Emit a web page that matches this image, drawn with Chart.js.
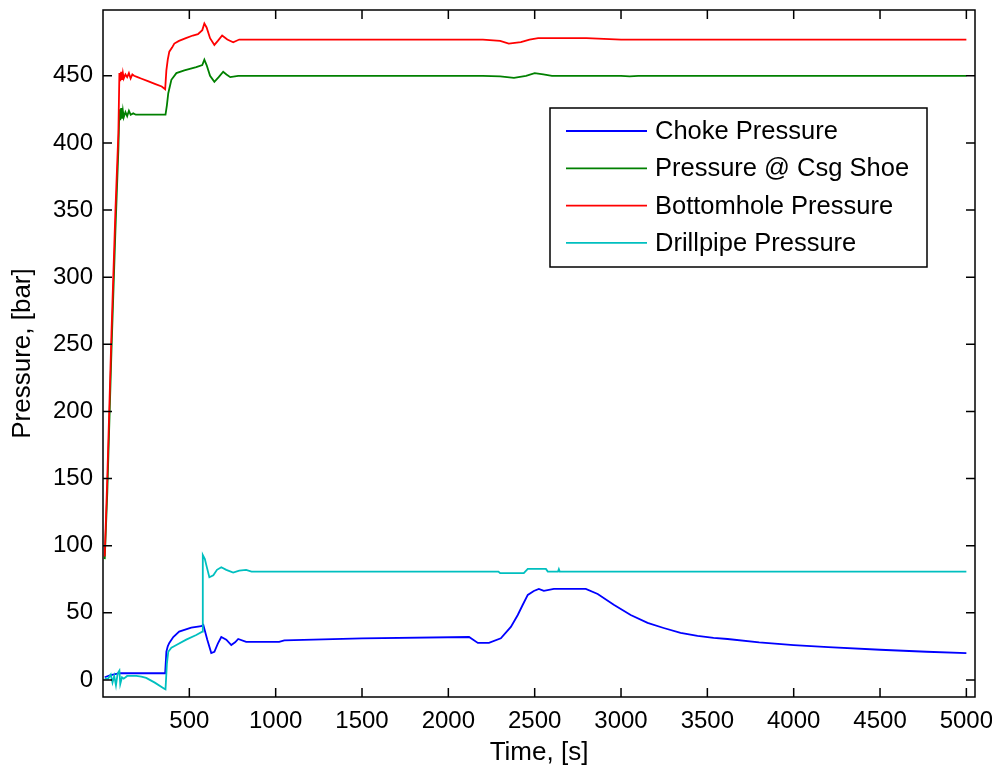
<!DOCTYPE html>
<html>
<head>
<meta charset="utf-8">
<script src="https://cdn.jsdelivr.net/npm/chart.js@4.4.1/dist/chart.umd.min.js"></script>
<style>
  body { margin: 0; background: #fff; }
  #wrap { width: 992px; height: 768px; }
</style>
</head>
<body>
<div id="wrap"><canvas id="chart"></canvas></div>
<script>
// series labels and colours
var seriesNames = ["Choke Pressure", "Pressure @ Csg Shoe", "Bottomhole Pressure", "Drillpipe Pressure"];
var seriesColors = ["#0000FF", "#008000", "#FF0000", "#00BFBF"];

// choke pressure [bar] vs time [s]
var chokeT = [10, 40, 95, 200, 360, 367, 375, 384, 407, 441, 511, 569, 581, 604, 627, 645, 665, 685, 714, 743, 765, 783, 829, 1020, 1050, 1500, 2120, 2171, 2235, 2304, 2362, 2402, 2431, 2460, 2495, 2524, 2553, 2611, 2796, 2865, 2958, 3056, 3154, 3247, 3345, 3443, 3536, 3617, 3800, 4000, 4200, 4500, 4770, 5000];
var chokeP = [2, 3.5, 5, 5, 5, 21, 25, 27.6, 32, 36, 39, 40, 41, 30, 20, 21, 27, 32, 30, 26, 28, 30.5, 28.3, 28.3, 29.5, 31, 32, 27.6, 27.6, 31, 39.5, 48.4, 56, 63.3, 66.3, 67.8, 66.3, 67.8, 67.8, 64, 56, 48.4, 42.5, 38.7, 35, 32.8, 31.3, 30.5, 28, 26, 24.5, 22.5, 21, 20];

// pressure at casing shoe
var shoeT = [10, 25, 49, 72, 89, 95, 100, 105, 110, 115, 120, 130, 140, 150, 160, 175, 190, 220, 260, 300, 340, 362, 370, 378, 396, 425, 471, 540, 575, 587, 600, 620, 645, 670, 696, 715, 737, 783, 840, 1500, 2200, 2300, 2380, 2450, 2500, 2550, 2600, 3000, 3050, 3100, 4000, 5000];
var shoeP = [90, 140, 245, 335, 395, 425, 417, 426, 418, 424, 419, 423, 420, 424, 421, 422, 421, 421, 421, 421, 421, 421, 428, 437, 447, 452, 454, 456.5, 458, 462, 458, 450, 445.5, 449, 453, 451, 449, 450, 450, 450, 450, 449.5, 448.5, 450, 452, 451, 450, 450, 449.5, 450, 450, 450];

// bottomhole pressure
var bottomT = [10, 25, 49, 72, 89, 95, 100, 105, 110, 115, 120, 130, 140, 150, 160, 170, 180, 200, 220, 260, 300, 340, 360, 367, 375, 384, 400, 413, 440, 480, 520, 550, 575, 587, 600, 620, 645, 665, 690, 720, 754, 789, 840, 1500, 2200, 2300, 2350, 2420, 2470, 2520, 2600, 2800, 3000, 3500, 4000, 5000];
var bottomP = [92, 151, 258, 350, 407, 452, 446, 453, 447, 452, 448, 451, 449, 452, 448, 451, 450, 449, 448, 446, 444, 442, 440, 454, 462, 468, 471, 474, 476, 478, 480, 481, 484, 489, 486, 478, 473, 476, 480, 477, 475, 477, 477, 477, 477, 476, 474, 475, 477, 478, 478, 478, 477, 477, 477, 477];

// drillpipe pressure
var drillT = [10, 30, 45, 55, 65, 75, 85, 95, 100, 110, 120, 140, 160, 193, 222, 250, 300, 355, 362, 370, 378, 396, 425, 482, 540, 575, 578, 590, 598, 616, 639, 660, 685, 714, 754, 789, 829, 860, 2290, 2300, 2437, 2460, 2565, 2576, 2635, 2640, 2645, 5000];
var drillP = [1, 1, 4, -2, 3, -4, 5, 7, -3, 2, 1, 3, 3, 3, 2.5, 1.5, -2, -6.5, -7, 12, 21, 24, 26, 30, 33.5, 36, 93, 90, 85.7, 76.5, 78, 82, 84, 82, 80, 81.5, 82, 80.7, 80.7, 79.5, 79.5, 82.7, 82.7, 80.7, 80.7, 82.5, 80.7, 80.7];

// axis tick values
var xTicks = [500, 1000, 1500, 2000, 2500, 3000, 3500, 4000, 4500, 5000];
var yTicks = [0, 50, 100, 150, 200, 250, 300, 350, 400, 450];

var FONT = "'Liberation Sans', Arial, sans-serif";

function pts(ts, vs) {
    return ts.map(function(t, i) { return {x: t, y: vs[i]}; });
}

var allT = [chokeT, shoeT, bottomT, drillT];
var allP = [chokeP, shoeP, bottomP, drillP];

var datasets = seriesNames.map(function(name, i) {
    return {
        label: name,
        data: pts(allT[i], allP[i]),
        borderColor: seriesColors[i],
        borderWidth: 1.8,
        pointRadius: 0,
        tension: 0,
        fill: false,
        order: 4 - i   // later series on top, like the original plot
    };
});

function noPad(s) {
    s.paddingLeft = 0; s.paddingRight = 0; s.paddingTop = 0; s.paddingBottom = 0;
}

// frame, inward ticks on all sides, legend box
var framePlugin = {
    id: 'framePlugin',
    afterDatasetsDraw: function(chart) {
        var ctx = chart.ctx, a = chart.chartArea;
        var xs = chart.scales.x, ys = chart.scales.y;
        var tl = 9;
        ctx.save();
        ctx.strokeStyle = '#000';
        ctx.lineWidth = 1.5;
        ctx.strokeRect(a.left, a.top, a.right - a.left, a.bottom - a.top);
        ctx.beginPath();
        xTicks.forEach(function(v) {
            var px = xs.getPixelForValue(v);
            ctx.moveTo(px, a.bottom); ctx.lineTo(px, a.bottom - tl);
            ctx.moveTo(px, a.top); ctx.lineTo(px, a.top + tl);
        });
        yTicks.forEach(function(v) {
            var py = ys.getPixelForValue(v);
            ctx.moveTo(a.left, py); ctx.lineTo(a.left + tl, py);
            ctx.moveTo(a.right, py); ctx.lineTo(a.right - tl, py);
        });
        ctx.stroke();

        // legend
        var bx = 550, by = 108, bw = 377, bh = 159;
        ctx.fillStyle = '#fff';
        ctx.fillRect(bx, by, bw, bh);
        ctx.lineWidth = 1.5;
        ctx.strokeRect(bx, by, bw, bh);
        ctx.font = '25.5px ' + FONT;
        ctx.textBaseline = 'middle';
        ctx.textAlign = 'left';
        seriesNames.forEach(function(name, i) {
            var ry = 131 + i * 37.3;
            ctx.strokeStyle = seriesColors[i];
            ctx.lineWidth = 1.8;
            ctx.beginPath();
            ctx.moveTo(566, ry); ctx.lineTo(647, ry);
            ctx.stroke();
            ctx.fillStyle = '#000';
            ctx.fillText(name, 655, ry + 1);
        });
        ctx.restore();
    }
};

var ctx = document.getElementById('chart');
var chart = new Chart(ctx, {
    type: 'line',
    data: { datasets: datasets },
    plugins: [framePlugin],
    options: {
        responsive: true,
        maintainAspectRatio: false,
        animation: false,
        layout: { padding: { top: 10, right: 17, left: 0, bottom: 0 } },
        plugins: {
            legend: { display: false },
            tooltip: { enabled: false }
        },
        scales: {
            x: {
                type: 'linear',
                min: 0,
                max: 5050,
                grid: { display: false, drawTicks: false },
                border: { display: false },
                afterBuildTicks: function(s) { s.ticks = xTicks.map(function(v) { return {value: v}; }); },
                afterFit: function(s) { s.height = 71; noPad(s); },
                ticks: {
                    padding: 10,
                    maxRotation: 0,
                    autoSkip: false,
                    color: '#000',
                    font: { family: FONT, size: 24 },
                    callback: function(v) { return String(v); }
                },
                title: {
                    display: true,
                    text: 'Time, [s]',
                    color: '#000',
                    padding: { top: 0, bottom: 0 },
                    font: { family: FONT, size: 26 }
                }
            },
            y: {
                min: -12.7,
                max: 499,
                grid: { display: false, drawTicks: false },
                border: { display: false },
                afterBuildTicks: function(s) { s.ticks = yTicks.map(function(v) { return {value: v}; }); },
                afterFit: function(s) { s.width = 103; noPad(s); },
                ticks: {
                    padding: 10,
                    autoSkip: false,
                    color: '#000',
                    font: { family: FONT, size: 24 },
                    callback: function(v) { return String(v); }
                },
                title: {
                    display: true,
                    text: 'Pressure, [bar]',
                    color: '#000',
                    padding: { top: 7, bottom: 0 },
                    font: { family: FONT, size: 26 }
                }
            }
        }
    }
});
</script>
</body>
</html>
